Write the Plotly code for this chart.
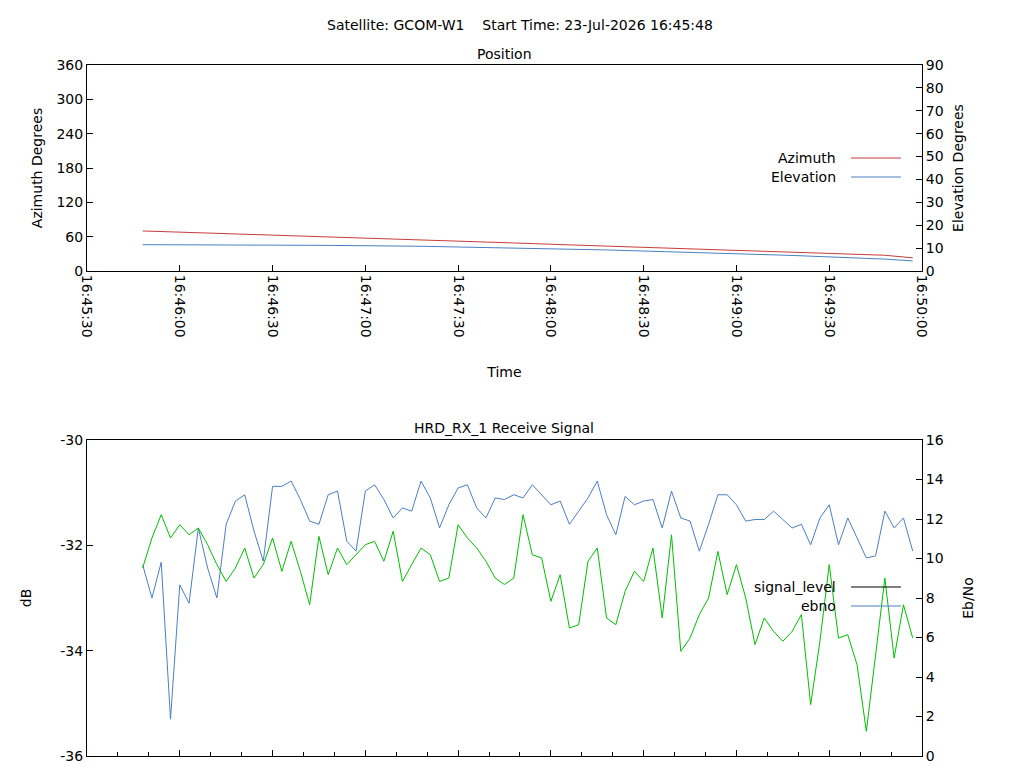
import pandas as pd
import plotly.graph_objects as go

start = pd.Timestamp("2026-07-23 16:45:48")

# position data (seconds after start)
pos_sec = [0, 30, 60, 90, 120, 150, 180, 210, 240, 249]
azimuth = [70, 65, 60, 54.5, 49, 43.5, 38, 32.5, 27.5, 23]
elevation = [11.5, 11.4, 11.2, 10.8, 10.1, 9.2, 8.0, 6.8, 5.2, 4.4]

# receive signal, sampled every 3 s
sig_sec = list(range(0, 252, 3))
signal_level = [-32.37, -33.0, -32.32, -35.3, -32.75, -33.1, -31.67, -32.43, -33.0, -31.6,
                -31.16, -31.04, -31.73, -32.3, -30.88, -30.88, -30.78, -31.13, -31.54, -31.6,
                -31.04, -30.97, -31.92, -32.11, -30.97, -30.85, -31.13, -31.48, -31.29, -31.35,
                -30.78, -31.1, -31.67, -31.23, -30.91, -30.85, -31.29, -31.48, -31.1, -31.13,
                -31.04, -31.1, -30.85, -31.04, -31.23, -31.16, -31.6, -31.35, -31.1, -30.78,
                -31.42, -31.8, -31.07, -31.23, -31.16, -31.13, -31.67, -30.97, -31.48, -31.54,
                -32.11, -31.6, -31.04, -31.04, -31.23, -31.54, -31.51, -31.51, -31.35, -31.51,
                -31.67, -31.6, -31.99, -31.48, -31.23, -31.99, -31.48, -31.86, -32.24, -32.2,
                -31.35, -31.67, -31.48, -32.11]
ebno = [9.52, 11.04, 12.22, 11.04, 11.71, 11.2, 11.54, 10.7, 9.69, 8.84,
        9.52, 10.53, 9.01, 9.69, 11.04, 9.35, 10.87, 9.35, 7.66, 11.12,
        9.18, 10.53, 9.69, 10.19, 10.7, 10.87, 9.86, 11.38, 8.84, 9.69,
        10.53, 10.19, 8.84, 9.01, 11.71, 11.04, 10.53, 9.86, 9.01, 8.68,
        9.01, 12.22, 10.19, 10.03, 7.83, 9.18, 6.48, 6.65, 9.86, 10.53,
        6.99, 6.65, 8.34, 9.35, 8.84, 10.53, 6.99, 11.2, 5.3, 5.97,
        7.16, 8.0, 10.36, 8.17, 9.69, 8.0, 5.64, 6.99, 6.31, 5.81,
        6.31, 7.16, 2.6, 5.81, 9.69, 5.97, 6.14, 4.62, 1.25, 5.13,
        9.01, 4.96, 7.66, 5.97]
db_ticks = [-36, -34, -32, -30]

pos_t = [start + pd.Timedelta(seconds=s) for s in pos_sec]
sig_t = [start + pd.Timedelta(seconds=s) for s in sig_sec]

RED = "#c83c3c"
BLUE = "#4a7fc4"
GREEN = "#00c000"
FONT = "DejaVu Sans"
TF = dict(family=FONT, size=14)

fig = go.Figure()
fig.add_trace(go.Scatter(x=pos_t, y=azimuth, mode="lines", line=dict(color=RED, width=1),
                         xaxis="x", yaxis="y", showlegend=False))
fig.add_trace(go.Scatter(x=pos_t, y=elevation, mode="lines", line=dict(color=BLUE, width=1),
                         xaxis="x", yaxis="y2", showlegend=False))
fig.add_trace(go.Scatter(x=sig_t, y=signal_level, mode="lines", line=dict(color=BLUE, width=1),
                         xaxis="x2", yaxis="y3", showlegend=False))
fig.add_trace(go.Scatter(x=sig_t, y=ebno, mode="lines", line=dict(color=GREEN, width=1),
                         xaxis="x2", yaxis="y4", showlegend=False))

xr = [pd.Timestamp("2026-07-23 16:45:30"), pd.Timestamp("2026-07-23 16:50:00")]
xdom = [79 / 1024, 914 / 1024]
top = [1 - 263 / 768, 1 - 57 / 768]
bot = [1 - 748 / 768, 1 - 432 / 768]
ax = dict(showline=True, linecolor="black", linewidth=1, ticks="inside", ticklen=6,
          tickcolor="black", showgrid=False, zeroline=False, automargin=False,
          tickfont=TF)
axm = dict(ax, mirror=True)

fig.update_layout(
    width=1024, height=768, margin=dict(l=0, r=0, t=0, b=0),
    plot_bgcolor="white", paper_bgcolor="white",
    font=dict(family=FONT, size=14, color="black"),
    xaxis=dict(**axm, domain=xdom, anchor="y", range=xr, type="date", dtick=30000,
               tickformat="%H:%M:%S", tickangle=90,
               title=dict(text="Time", standoff=30, font=TF)),
    yaxis=dict(**axm, domain=top, anchor="x", range=[0, 360], dtick=60,
               title=dict(text="Azimuth Degrees", standoff=10, font=TF)),
    yaxis2=dict(**ax, overlaying="y", side="right", anchor="x", range=[0, 90], dtick=10,
                title=dict(text="Elevation Degrees", standoff=10, font=TF)),
    xaxis2=dict(**axm, domain=xdom, anchor="y3", range=xr, type="date", dtick=30000,
                showticklabels=False, minor=dict(dtick=10000, ticks="inside", ticklen=4,
                                                 tickcolor="black")),
    yaxis3=dict(**axm, domain=bot, anchor="x2", range=[-36, -30], tickvals=db_ticks,
                ticktext=[str(v) for v in db_ticks],
                title=dict(text="dB", standoff=25, font=TF)),
    yaxis4=dict(**ax, overlaying="y3", side="right", anchor="x2", range=[0, 16], dtick=2,
                title=dict(text="Eb/No", standoff=20, font=TF)),
)

ann = [
    ("Satellite: GCOM-W1    Start Time: 23-Jul-2026 16:45:48", 0.5, 17, "center"),
    ("Position", 496 / 1024, 46, "center"),
    ("HRD_RX_1 Receive Signal", 496 / 1024, 420, "center"),
    ("Azimuth", 830 / 1024, 150, "right"),
    ("Elevation", 830 / 1024, 169, "right"),
    ("signal_level", 830 / 1024, 579, "right"),
    ("ebno", 830 / 1024, 598, "right"),
]
for text, x, ypix, align in ann:
    fig.add_annotation(text=text, x=x, y=1 - ypix / 768, xref="paper", yref="paper",
                       xanchor=align, yanchor="middle", showarrow=False, font=TF)

for ypix, color in [(150, RED), (169, BLUE), (579, "black"), (598, BLUE)]:
    fig.add_shape(type="line", xref="paper", yref="paper", x0=843 / 1024, x1=893 / 1024,
                  y0=1 - ypix / 768, y1=1 - ypix / 768, line=dict(color=color, width=1))

fig.write_html("out.html")
